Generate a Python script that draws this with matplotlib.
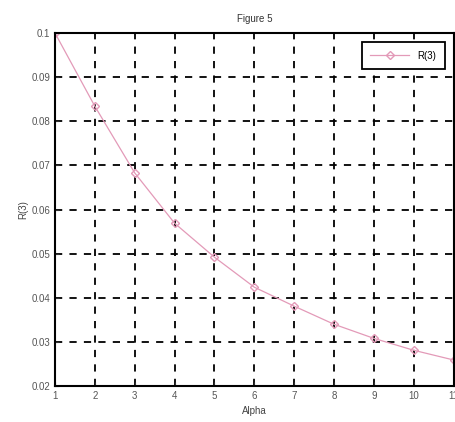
import matplotlib
matplotlib.use("Agg")
import matplotlib.pyplot as plt

alpha = [1, 2, 3, 4, 5, 6, 7, 8, 9, 10, 11]
r3 = [0.1, 0.0834, 0.0683, 0.0569, 0.0492, 0.0424, 0.0381, 0.0340, 0.0308, 0.0281, 0.0259]

plt.rcParams["font.family"] = ["Liberation Sans", "DejaVu Sans"]
plt.rcParams["font.size"] = 7

fig = plt.figure(figsize=(4.56, 4.22), dpi=100)
ax = fig.add_axes([0.1206, 0.0853, 0.874, 0.8365])

ax.plot(alpha, r3, color="#e39ab8", lw=0.9, marker="D", markersize=4.5,
        markerfacecolor="none", markeredgecolor="#e39ab8", label="R(3)")

ax.set_xlim(1, 11)
ax.set_ylim(0.02, 0.1)
ax.set_xticks(alpha)
ax.set_yticks([0.02, 0.03, 0.04, 0.05, 0.06, 0.07, 0.08, 0.09, 0.1])
ax.set_yticklabels(["0.02", "0.03", "0.04", "0.05", "0.06", "0.07", "0.08", "0.09", "0.1"])
ax.grid(True, color="black", linestyle=(0, (4, 4)), linewidth=1.3)
ax.tick_params(direction="in", length=3, colors="#333333", labelcolor="#555555")
for s in ax.spines.values():
    s.set_linewidth(1.5)

ax.set_title("Figure 5", fontsize=7, color="#333333", pad=8)
ax.set_xlabel("Alpha", color="#444444", labelpad=4)
ax.set_ylabel("R(3)", color="#444444", labelpad=2)

leg = ax.legend(loc="upper right", fancybox=False, framealpha=1,
                edgecolor="black", borderpad=0.9, handlelength=4,
                borderaxespad=0.9)
leg.get_frame().set_linewidth(1.3)

fig.savefig("out.png", dpi=100)
